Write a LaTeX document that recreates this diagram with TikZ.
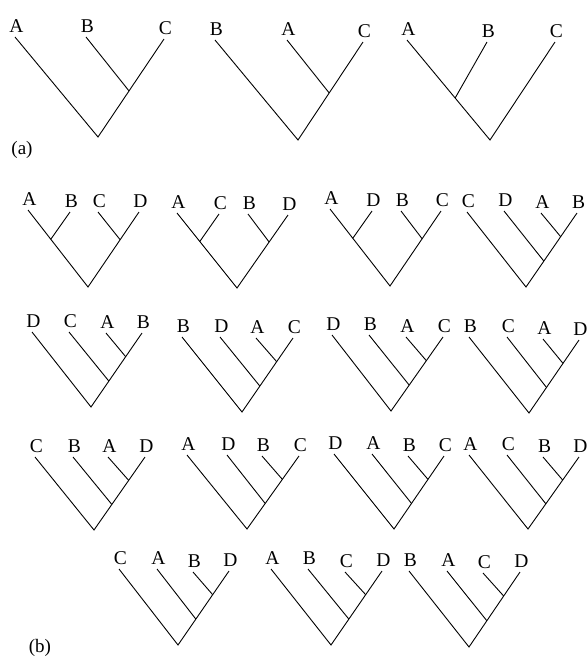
\documentclass[tikz,border=0pt]{standalone}
\usepackage{fontspec}
\setmainfont{Liberation Serif}
\usetikzlibrary{calc}
\tikzset{
  lbl/.style={anchor=base,inner sep=0pt,font=\fontsize{19.5}{22}\selectfont},
  br/.style={line width=0.9pt,black,line join=miter},
  tag/.style={inner sep=0pt,font=\fontsize{19}{22}\selectfont}
}
\newcommand{\tipat}[4]{\coordinate (#1) at (#2,#3); \node[lbl] (#1l) at ([xshift=1.5pt,yshift=5pt]#1) {#4};}
% caterpillar: root #10, tips #11..#14
\newcommand{\catree}[1]{%
  \coordinate (#1a) at ($(#10)!0.35!(#14)$);
  \coordinate (#1b) at ($(#10)!0.68!(#14)$);
  \draw[br] (#11) -- (#10) -- (#14);
  \draw[br] (#12) -- (#1a);
  \draw[br] (#13) -- (#1b);}
\newcommand{\baltree}[1]{%
  \coordinate (#1a) at ($(#10)!0.62!(#11)$);
  \coordinate (#1b) at ($(#10)!0.63!(#14)$);
  \draw[br] (#11) -- (#10) -- (#14);
  \draw[br] (#12) -- (#1a);
  \draw[br] (#13) -- (#1b);}
\newcommand{\trir}[2]{%
  \coordinate (#1a) at ($(#10)!#2!(#13)$);
  \draw[br] (#11) -- (#10) -- (#13);
  \draw[br] (#12) -- (#1a);}
\newcommand{\tril}[2]{%
  \coordinate (#1a) at ($(#10)!#2!(#11)$);
  \draw[br] (#11) -- (#10) -- (#13);
  \draw[br] (#12) -- (#1a);}
\begin{document}
\begin{tikzpicture}[x=1pt,y=-1pt]
\useasboundingbox (0,0) rectangle (588,657);
% ---- (a)
\coordinate (p0) at (98,137); \tipat{p1}{15}{37}{A}\tipat{p2}{86}{37}{B}\tipat{p3}{164}{39}{C}
\trir{p}{0.47}
\coordinate (q0) at (298,140); \tipat{q1}{215}{40}{B}\tipat{q2}{287}{40}{A}\tipat{q3}{363}{42}{C}
\trir{q}{0.48}
\coordinate (r0) at (490,140); \tipat{r1}{407}{40}{A}\tipat{r2}{487}{42}{B}\tipat{r3}{555}{42}{C}
\tril{r}{0.42}
\node[tag] (taga) at (22,150) {(a)};
% ---- (b) row 1
\coordinate (s0) at (88,287); \tipat{s1}{28}{210}{A}\tipat{s2}{70}{212}{B}\tipat{s3}{98}{212}{C}\tipat{s4}{139}{212}{D}
\baltree{s}
\coordinate (t0) at (237,288); \tipat{t1}{177}{213}{A}\tipat{t2}{219}{214}{C}\tipat{t3}{248}{214}{B}\tipat{t4}{288}{215}{D}
\baltree{t}
\coordinate (u0) at (390,286); \tipat{u1}{330}{209}{A}\tipat{u2}{372}{211}{D}\tipat{u3}{401}{211}{B}\tipat{u4}{441}{211}{C}
\baltree{u}
\coordinate (v0) at (526,287); \tipat{v1}{467}{212}{C}\tipat{v2}{504}{211}{D}\tipat{v3}{541}{213}{A}\tipat{v4}{577}{213}{B}
\catree{v}
% ---- row 2
\coordinate (w0) at (91,407); \tipat{w1}{32}{332}{D}\tipat{w2}{69}{332}{C}\tipat{w3}{106}{333}{A}\tipat{w4}{142}{333}{B}
\catree{w}
\coordinate (x0) at (242,412); \tipat{x1}{182}{337}{B}\tipat{x2}{220}{337}{D}\tipat{x3}{256}{338}{A}\tipat{x4}{293}{338}{C}
\catree{x}
\coordinate (y0) at (391,411); \tipat{y1}{332}{335}{D}\tipat{y2}{369}{335}{B}\tipat{y3}{406}{337}{A}\tipat{y4}{443}{337}{C}
\catree{y}
\coordinate (z0) at (529,413); \tipat{z1}{469}{337}{B}\tipat{z2}{507}{337}{C}\tipat{z3}{543}{339}{A}\tipat{z4}{579}{340}{D}
\catree{z}
% ---- row 3
\coordinate (k0) at (94,530); \tipat{k1}{35}{457}{C}\tipat{k2}{73}{457}{B}\tipat{k3}{108}{457}{A}\tipat{k4}{145}{457}{D}
\catree{k}
\coordinate (l0) at (247,529); \tipat{l1}{187}{455}{A}\tipat{l2}{227}{455}{D}\tipat{l3}{262}{456}{B}\tipat{l4}{299}{456}{C}
\catree{l}
\coordinate (m0) at (394,529); \tipat{m1}{334}{454}{D}\tipat{m2}{372}{454}{A}\tipat{m3}{408}{456}{B}\tipat{m4}{444}{456}{C}
\catree{m}
\coordinate (n0) at (528,529); \tipat{n1}{469}{455}{A}\tipat{n2}{507}{455}{C}\tipat{n3}{543}{457}{B}\tipat{n4}{579}{457}{D}
\catree{n}
% ---- row 4
\coordinate (e0) at (178,645); \tipat{e1}{119}{569}{C}\tipat{e2}{157}{569}{A}\tipat{e3}{193}{572}{B}\tipat{e4}{229}{571}{D}
\catree{e}
\coordinate (f0) at (331,645); \tipat{f1}{271}{569}{A}\tipat{f2}{308}{569}{B}\tipat{f3}{345}{572}{C}\tipat{f4}{382}{571}{D}
\catree{f}
\coordinate (g0) at (469,647); \tipat{g1}{409}{571}{B}\tipat{g2}{447}{571}{A}\tipat{g3}{483}{573}{C}\tipat{g4}{520}{572}{D}
\catree{g}
\node[tag] (tagb) at (40,648) {(b)};
\end{tikzpicture}
\end{document}
